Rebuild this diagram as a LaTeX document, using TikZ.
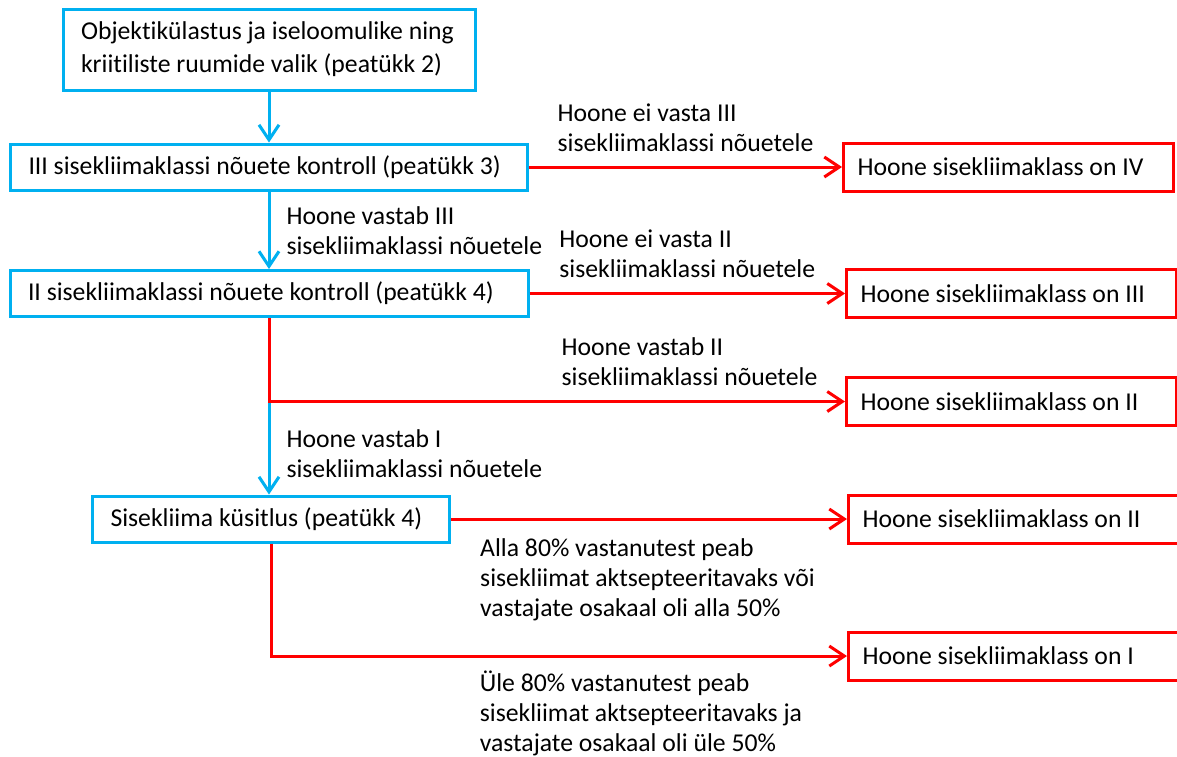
\documentclass[tikz,border=0pt]{standalone}
\usepackage{fontspec}
\setmainfont[Ligatures=NoCommon]{Carlito}
\usetikzlibrary{arrows.meta}
\definecolor{kastsinine}{RGB}{0,176,240}

\begin{document}
\begin{tikzpicture}[x=1pt,y=-1pt,auto,line width=3pt,
                    every node/.style={font=\fontsize{25.7}{30}\selectfont},
                    blue box/.style={rectangle,draw=kastsinine,align=flush left,inner xsep=18pt,minimum height=46pt},
                    red box/.style={rectangle,draw=red,align=flush left,anchor=west,text width=302pt,inner xsep=14pt,minimum height=48pt},
                    blue arrows/.style={every edge/.style={draw=kastsinine,-{Straight Barb[length=15pt,width=20pt]}}},
                    red arrows/.style={every edge/.style={draw=red,-{Straight Barb[length=15pt,width=20pt]}}},
                    red arrow/.style={draw=red,-{Straight Barb[length=15pt,width=20pt]}},
                    tekst/.style={align=flush left,inner sep=0pt}]

  \useasboundingbox (0,0) rectangle (1177,756);
  \clip (0,0) rectangle (1177,756);

  \node[blue box,text width=376pt,minimum height=81pt,font=\fontsize{25.7}{33}\selectfont] (objekt) at (269,49.5) {Objektikülastus ja iseloomulike ning\\kriitiliste ruumide valik (peatükk 2)};
  \node[blue box,text width=481pt] (kontroll3) at (269,167) {III sisekliimaklassi nõuete kontroll (peatükk 3)};
  \node[blue box,text width=482pt] (kontroll2) at (269,293.5) {II sisekliimaklassi nõuete kontroll (peatükk 4)};
  \node[blue box,text width=321pt] (kysitlus) at (271,519) {Sisekliima küsitlus (peatükk 4)};

  \node[red box] (klass4) at (842,167) {Hoone sisekliimaklass on IV};
  \node[red box] (klass3) at (845,293.5) {Hoone sisekliimaklass on III};
  \node[red box] (klass2) at (845,401.5) {Hoone sisekliimaklass on II};
  \node[red box,text width=400pt] (klass2b) at (847,519) {Hoone sisekliimaklass on II};
  \node[red box,text width=400pt] (klass1) at (847,656) {Hoone sisekliimaklass on I};

  \coordinate (haru2) at (kontroll2.south |- klass2.west);

  \path[blue arrows]
    (objekt) edge (kontroll3)
    (kontroll3) edge node[tekst,right=16pt] {Hoone vastab III\\sisekliimaklassi nõuetele} (kontroll2)
    (haru2) edge node[tekst,right=16pt,pos=0.56] {Hoone vastab I\\sisekliimaklassi nõuetele} (haru2 |- kysitlus.north);

  \path[red arrows]
    (kontroll3) edge node[tekst,above=14pt] {Hoone ei vasta III\\sisekliimaklassi nõuetele} (klass4)
    (kontroll2) edge node[tekst,above=14pt] {Hoone ei vasta II\\sisekliimaklassi nõuetele} (klass3)
    (kysitlus) edge node[tekst,pos=0.07,anchor=north west,yshift=-18pt] {Alla 80\% vastanutest peab\\sisekliimat aktsepteeritavaks või\\vastajate osakaal oli alla 50\%} (klass2b);

  \draw[red arrow] (kontroll2) |- node[tekst,pos=0.865,above=14pt] {Hoone vastab II\\sisekliimaklassi nõuetele} (klass2);
  \draw[red arrow] (kysitlus) |- node[tekst,pos=0.68,anchor=north west,yshift=-13pt] {Üle 80\% vastanutest peab\\sisekliimat aktsepteeritavaks ja\\vastajate osakaal oli üle 50\%} (klass1);
\end{tikzpicture}
\end{document}
